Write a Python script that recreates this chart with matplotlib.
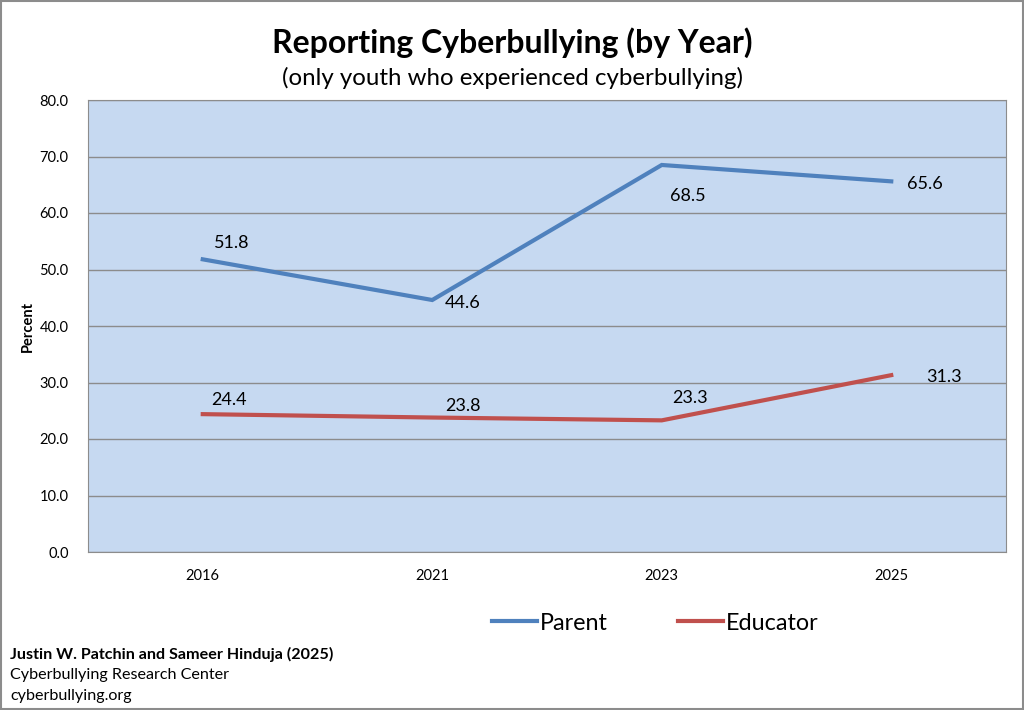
import matplotlib
matplotlib.use("Agg")
import matplotlib.pyplot as plt
from matplotlib.patches import Rectangle

plt.rcParams['font.family'] = ['Lato', 'DejaVu Sans']

years = ["2016", "2021", "2023", "2025"]
parent = [51.8, 44.6, 68.5, 65.6]
educator = [24.4, 23.8, 23.3, 31.3]
yticks = [0, 10, 20, 30, 40, 50, 60, 70, 80]

blue = "#4F81BD"
red = "#C0504D"

fig = plt.figure(figsize=(10.24, 7.10), dpi=100)
ax = fig.add_axes([88/1024, 1-552/710, 918/1024, 452/710])
ax.set_facecolor("#C6D9F1")

x = list(range(len(years)))
ax.plot(x, parent, color=blue, lw=3.0, label="Parent", solid_joinstyle='miter', zorder=3)
ax.plot(x, educator, color=red, lw=3.0, label="Educator", solid_joinstyle='miter', zorder=3)

ax.set_xlim(-0.5, 3.5)
ax.set_ylim(0, 80)
ax.set_yticks(yticks)
ax.set_yticklabels([f"{v:.1f}" for v in yticks], fontsize=10.5)
ax.set_xticks(x)
ax.set_xticklabels(years, fontsize=10.5)
ax.tick_params(length=0, pad=12)
ax.tick_params(axis='y', pad=14)
ax.grid(axis='y', color="#8C8C8C", lw=1)
ax.set_axisbelow(True)
for s in ax.spines.values():
    s.set_color("#8C8C8C")
ax.set_ylabel("Percent", fontsize=10.5, fontweight='bold', labelpad=3)

# data labels (offsets in points)
p_off = [(21, 12), (22, -2), (19, -22), (24, -2)]
e_off = [(19, 10), (22, 8), (20, 16), (38, -1.5)]
for i, v in enumerate(parent):
    ax.annotate(f"{v:.1f}", (x[i], v), xytext=p_off[i], textcoords='offset points',
                ha='center', va='center', fontsize=13)
for i, v in enumerate(educator):
    ax.annotate(f"{v:.1f}", (x[i], v), xytext=e_off[i], textcoords='offset points',
                ha='center', va='center', fontsize=13)

fig.text(512/1024, 1-43/710, "Reporting Cyberbullying (by Year)", ha='center', va='center',
         fontsize=23, fontweight='bold')
fig.text(512/1024, 1-78/710, "(only youth who experienced cyberbullying)", ha='center', va='center',
         fontsize=17.3)

leg = fig.legend(loc='center', bbox_to_anchor=(655/1024, 1-623/710), ncol=2, frameon=False,
                 fontsize=16.8, handlelength=1.95, handletextpad=0.1, columnspacing=3.0)

fig.text(10/1024, 1-654/710, "Justin W. Patchin and Sameer Hinduja (2025)", ha='left', va='center',
         fontsize=11.6, fontweight='bold')
fig.text(10/1024, 1-675/710, "Cyberbullying Research Center", ha='left', va='center', fontsize=11.6)
fig.text(10/1024, 1-696/710, "cyberbullying.org", ha='left', va='center', fontsize=11.6)

fig.patches.append(Rectangle((0.001, 0.001), 0.998, 0.998, transform=fig.transFigure,
                             fill=False, edgecolor="#8C8C8C", lw=1.5))

fig.savefig("out.png", dpi=100)
